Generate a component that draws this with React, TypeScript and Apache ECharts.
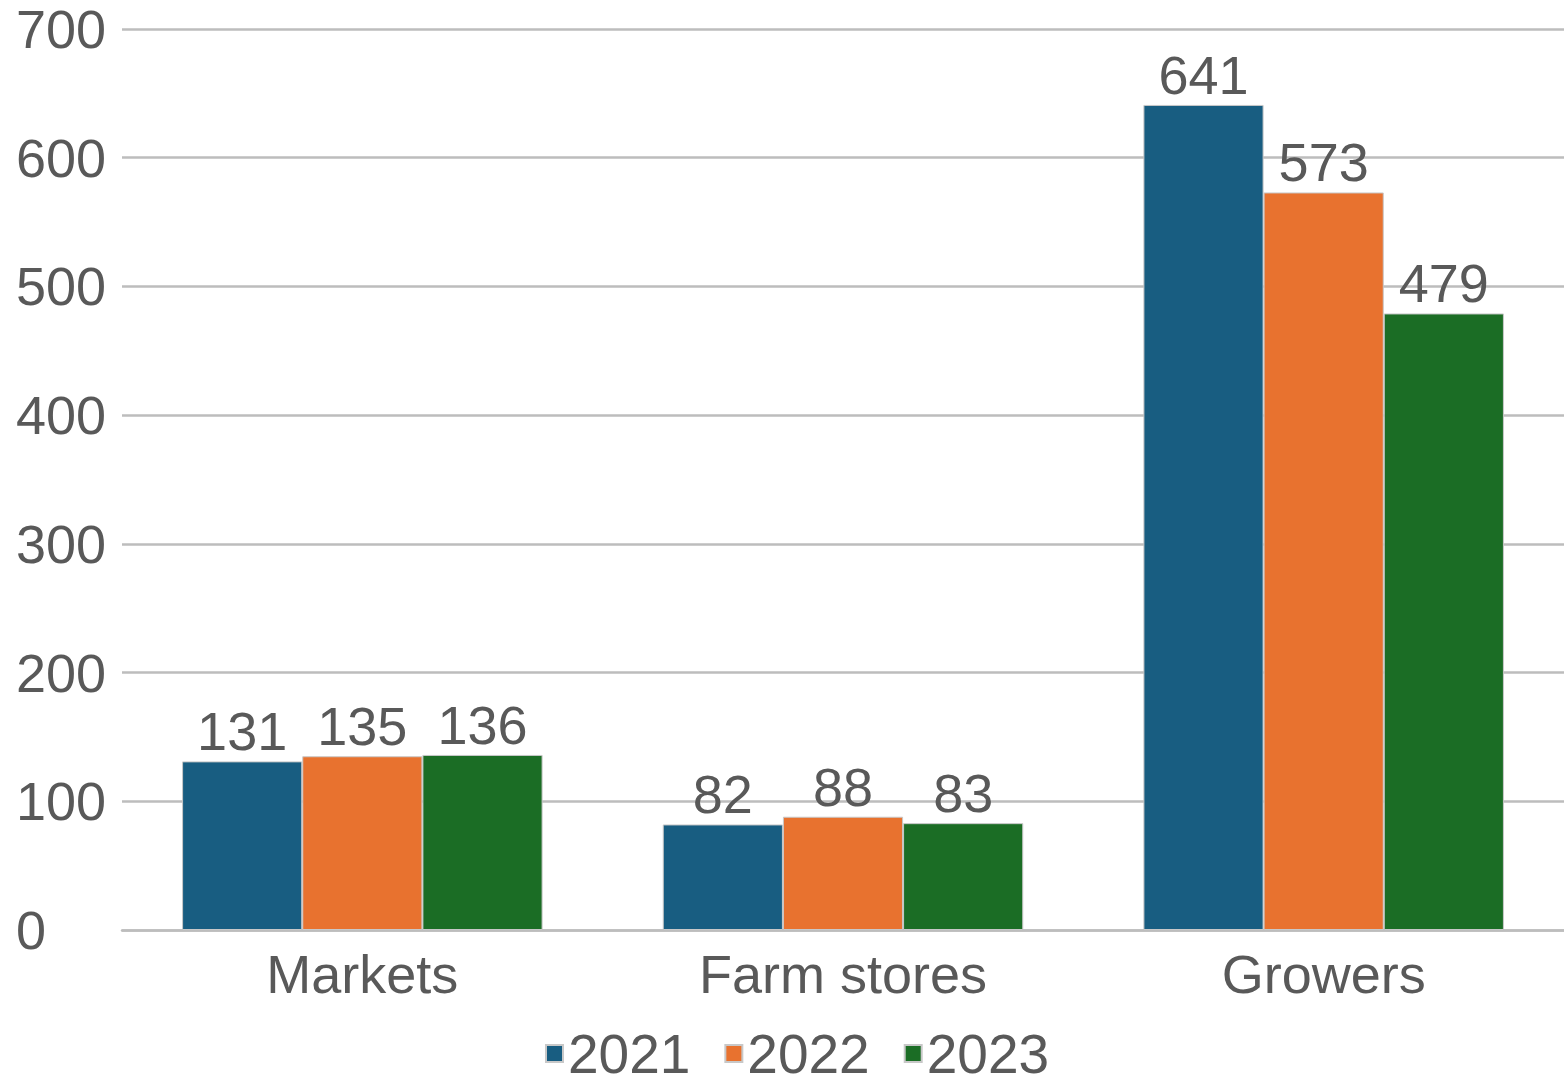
import React, { useEffect, useRef } from "react";
import * as echarts from "echarts";

const categories = ["Markets", "Farm stores", "Growers"];
const seriesNames = ["2021", "2022", "2023"];
const values2021 = [131, 82, 641];
const values2022 = [135, 88, 573];
const values2023 = [136, 83, 479];
const colors = ["#185d81", "#e8722f", "#1b6d25"];

export default function App() {
  const ref = useRef<HTMLDivElement>(null);
  useEffect(() => {
    if (!ref.current) return;
    const chart = echarts.init(ref.current, null, { renderer: "svg" });
    const font = "'Liberation Sans', Arial, sans-serif";
    const textColor = "#595959";
    const data = [values2021, values2022, values2023];
    chart.setOption({
      animation: false,
      backgroundColor: "#ffffff",
      textStyle: { fontFamily: font },
      grid: { left: 122, right: 0, top: 29, bottom: 156, containLabel: false },
      legend: {
        bottom: 0,
        left: 540,
        itemWidth: 17,
        itemHeight: 17,
        itemGap: 34,
        icon: "rect",
        textStyle: { fontSize: 55, color: textColor, fontFamily: font },
        data: seriesNames,
      },
      xAxis: {
        type: "category",
        data: categories,
        axisLine: { show: true, lineStyle: { color: "#bdbdbd", width: 2.5 } },
        axisTick: { show: false },
        axisLabel: { fontSize: 54, color: textColor, margin: 17, fontFamily: font },
      },
      yAxis: {
        type: "value",
        min: 0,
        max: 700,
        interval: 100,
        axisLine: { show: false },
        axisTick: { show: false },
        splitLine: { lineStyle: { color: "#bdbdbd", width: 2.5 } },
        axisLabel: {
          fontSize: 54,
          color: textColor,
          align: "left",
          margin: 106,
          fontFamily: font,
        },
      },
      series: seriesNames.map((name, i) => ({
        name,
        type: "bar",
        data: data[i],
        barGap: "0%",
        barCategoryGap: "25%",
        itemStyle: { color: colors[i], borderColor: "#c8c8c8", borderWidth: 1 },
        label: {
          show: true,
          position: "top",
          distance: 3,
          fontSize: 54,
          color: textColor,
          fontFamily: font,
        },
      })),
    });
    return () => chart.dispose();
  }, []);
  return (
    <div
      ref={ref}
      style={{ position: "fixed", left: 0, top: 0, width: 1564, height: 1086 }}
    />
  );
}
